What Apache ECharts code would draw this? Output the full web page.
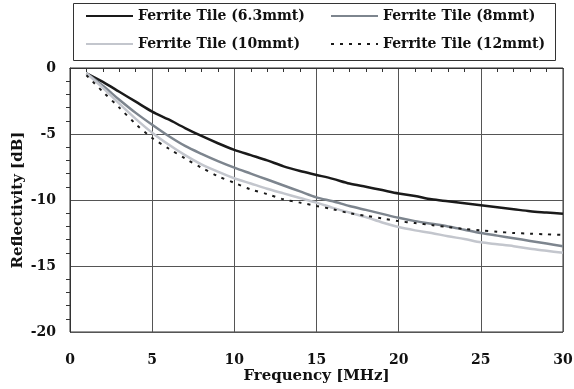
<!DOCTYPE html>
<html><head><meta charset="utf-8">
<script src="https://cdn.jsdelivr.net/npm/echarts@6/dist/echarts.min.js"></script>
<style>html,body{margin:0;padding:0;background:#fff}#c{width:574px;height:389px}</style>
</head><body><div id="c"></div>
<script>
const freq = [1,2,3,4,5,6,7,8,9,10,11,12,13,14,15,16,17,18,19,20,21,22,23,24,25,26,27,28,29,30];
const tile63 = [-0.4,-1.05,-1.8,-2.55,-3.3,-3.9,-4.55,-5.15,-5.7,-6.2,-6.6,-7.0,-7.45,-7.8,-8.1,-8.4,-8.75,-9.0,-9.25,-9.5,-9.7,-9.95,-10.1,-10.25,-10.4,-10.55,-10.7,-10.85,-10.95,-11.05];
const tile8 = [-0.4,-1.35,-2.4,-3.4,-4.3,-5.15,-5.9,-6.5,-7.05,-7.55,-8.0,-8.45,-8.9,-9.35,-9.8,-10.1,-10.45,-10.75,-11.05,-11.35,-11.6,-11.8,-12.0,-12.25,-12.5,-12.7,-12.9,-13.1,-13.3,-13.5];
const tile10 = [-0.4,-1.5,-2.7,-3.85,-4.9,-5.8,-6.6,-7.3,-7.85,-8.35,-8.75,-9.15,-9.5,-9.85,-10.2,-10.6,-10.95,-11.3,-11.7,-12.05,-12.3,-12.5,-12.75,-12.95,-13.2,-13.35,-13.5,-13.7,-13.85,-14.0];
const tile12 = [-0.55,-1.8,-3.0,-4.25,-5.3,-6.1,-6.85,-7.55,-8.2,-8.7,-9.2,-9.55,-9.95,-10.2,-10.45,-10.7,-11.0,-11.2,-11.4,-11.6,-11.75,-11.9,-12.05,-12.2,-12.3,-12.4,-12.5,-12.55,-12.6,-12.65];
const names = ['Ferrite Tile (6.3mmt)','Ferrite Tile (8mmt)','Ferrite Tile (10mmt)','Ferrite Tile (12mmt)'];
const xTicks = [0,5,10,15,20,25,30];
const yTicks = [0,-5,-10,-15,-20];

const font = '"DejaVu Serif",serif';
const pair = a => freq.map((f,i)=>[f,a[i]]);
const chart = echarts.init(document.getElementById('c'), null, {renderer:'canvas'});
const legendBase = {
  itemWidth: 47, itemHeight: 14, itemGap: 0, padding: 0,
  itemStyle: {opacity: 0},
  textStyle: {fontFamily: font, fontWeight: 'bold', fontSize: 14, color: '#111'},
  selectedMode: false
};
const mk = (name, data, color, width, type) => ({
  name, type: 'line', data: pair(data), symbol: 'none', smooth: 0.3,
  lineStyle: {color, width, type}, itemStyle: {color}, z: 3
});
chart.setOption({
  animation: false,
  backgroundColor: '#fff',
  grid: {left: 70, right: 11, top: 68, bottom: 57, show: true, borderColor: '#333', borderWidth: 1,
    containLabel: false, outerBoundsMode: 'none'},
  graphic: [{type:'rect', shape:{x:73.5,y:3.5,width:482,height:57}, style:{fill:'none', stroke:'#333', lineWidth:1}}],
  legend: [
    Object.assign({}, legendBase, {data:[names[0]], left: 85, top: 9}),
    Object.assign({}, legendBase, {data:[names[1]], left: 330, top: 9}),
    Object.assign({}, legendBase, {data:[names[2]], left: 85, top: 37}),
    Object.assign({}, legendBase, {data:[names[3]], left: 330, top: 37})
  ],
  xAxis: {
    type: 'value', min: 0, max: 30, interval: 5,
    name: 'Frequency [MHz]', nameLocation: 'middle', nameGap: 37, nameMoveOverlap: false,
    nameTextStyle: {fontFamily: font, fontWeight: 'bold', fontSize: 15, color: '#111'},
    axisLine: {lineStyle: {color: '#333'}},
    axisTick: {show: false},
    minorTick: {show: true, splitNumber: 5, length: 4, lineStyle: {color: '#333'}},
    splitLine: {show: true, lineStyle: {color: '#555', width: 1}},
    axisLabel: {fontFamily: font, fontWeight: 'bold', fontSize: 14, color: '#111', margin: 21,
      formatter: v => xTicks.includes(v) ? String(v) : ''}
  },
  yAxis: {
    type: 'value', min: -20, max: 0, interval: 5,
    name: 'Reflectivity [dB]', nameLocation: 'middle', nameGap: 44, nameRotate: 90, nameMoveOverlap: false,
    nameTextStyle: {fontFamily: font, fontWeight: 'bold', fontSize: 15, color: '#111'},
    axisLine: {show: true, lineStyle: {color: '#333'}},
    axisTick: {show: false},
    minorTick: {show: true, splitNumber: 5, length: 4, lineStyle: {color: '#333'}},
    splitLine: {show: true, lineStyle: {color: '#555', width: 1}},
    axisLabel: {fontFamily: font, fontWeight: 'bold', fontSize: 14, color: '#111', margin: 14,
      formatter: v => yTicks.includes(v) ? String(v) : ''}
  },
  series: [
    mk(names[0], tile63, '#1a1a1a', 2.5, 'solid'),
    mk(names[1], tile8, '#7d858e', 2.5, 'solid'),
    mk(names[2], tile10, '#c3c6cd', 2.5, 'solid'),
    mk(names[3], tile12, '#1a1a1a', 2, [3,6])
  ]
});
</script></body></html>
